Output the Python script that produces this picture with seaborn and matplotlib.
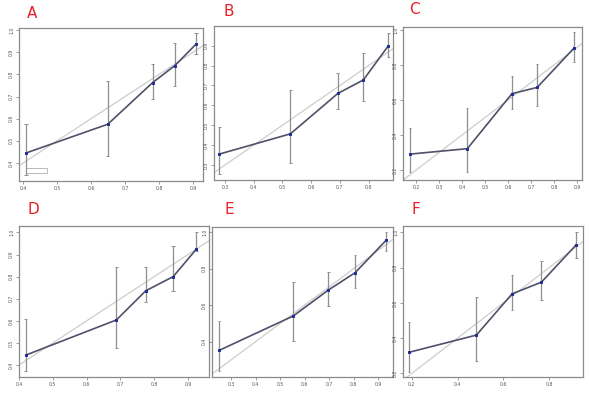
import matplotlib
matplotlib.use("Agg")
import matplotlib.pyplot as plt
from matplotlib.patches import Rectangle
import seaborn as sns
import pandas as pd
import numpy as np

sns.set_style("white")

panels = ["A", "B", "C", "D", "E", "F"]

# predicted (x), observed (y), error bar low/high
pred_A = [0.408, 0.649, 0.781, 0.846, 0.909]
obs_A = [0.445, 0.575, 0.763, 0.839, 0.937]
lo_A = [0.348, 0.434, 0.689, 0.749, 0.892]
hi_A = [0.577, 0.770, 0.845, 0.940, 0.985]

pred_B = [0.280, 0.528, 0.693, 0.782, 0.869]
obs_B = [0.355, 0.457, 0.660, 0.728, 0.900]
lo_B = [0.255, 0.308, 0.580, 0.620, 0.842]
hi_B = [0.492, 0.678, 0.765, 0.863, 0.963]

pred_C = [0.174, 0.423, 0.617, 0.727, 0.886]
obs_C = [0.291, 0.322, 0.636, 0.672, 0.895]
lo_C = [0.189, 0.189, 0.546, 0.564, 0.817]
hi_C = [0.441, 0.552, 0.739, 0.808, 0.987]

pred_D = [0.420, 0.688, 0.775, 0.856, 0.925]
obs_D = [0.445, 0.604, 0.736, 0.800, 0.925]
lo_D = [0.373, 0.475, 0.687, 0.733, 0.915]
hi_D = [0.609, 0.845, 0.845, 0.937, 1.000]

pred_E = [0.251, 0.554, 0.697, 0.806, 0.933]
obs_E = [0.352, 0.541, 0.683, 0.778, 0.956]
lo_E = [0.241, 0.404, 0.596, 0.692, 0.897]
hi_E = [0.514, 0.727, 0.782, 0.877, 1.000]

pred_F = [0.187, 0.482, 0.638, 0.766, 0.919]
obs_F = [0.319, 0.417, 0.651, 0.717, 0.930]
lo_F = [0.209, 0.272, 0.562, 0.615, 0.855]
hi_F = [0.489, 0.634, 0.758, 0.836, 1.000]

xticks_A = [0.4, 0.5, 0.6, 0.7, 0.8, 0.9]
yticks_A = [0.4, 0.5, 0.6, 0.7, 0.8, 0.9, 1.0]
xticks_B = [0.3, 0.4, 0.5, 0.6, 0.7, 0.8]
yticks_B = [0.3, 0.4, 0.5, 0.6, 0.7, 0.8, 0.9]
xticks_C = [0.2, 0.3, 0.4, 0.5, 0.6, 0.7, 0.8, 0.9]
yticks_C = [0.2, 0.4, 0.6, 0.8, 1.0]
xticks_D = [0.4, 0.5, 0.6, 0.7, 0.8, 0.9]
yticks_D = [0.4, 0.5, 0.6, 0.7, 0.8, 0.9, 1.0]
xticks_E = [0.3, 0.4, 0.5, 0.6, 0.7, 0.8, 0.9]
yticks_E = [0.4, 0.6, 0.8, 1.0]
xticks_F = [0.2, 0.4, 0.6, 0.8]
yticks_F = [0.2, 0.4, 0.6, 0.8, 1.0]

data = {
    "A": (pred_A, obs_A, lo_A, hi_A, xticks_A, yticks_A, (0.388, 0.929), (0.319, 1.009)),
    "B": (pred_B, obs_B, lo_B, hi_B, xticks_B, yticks_B, (0.262, 0.885), (0.225, 0.999)),
    "C": (pred_C, obs_C, lo_C, hi_C, xticks_C, yticks_C, (0.143, 0.922), (0.143, 1.017)),
    "D": (pred_D, obs_D, lo_D, hi_D, xticks_D, yticks_D, (0.400, 0.962), (0.346, 1.029)),
    "E": (pred_E, obs_E, lo_E, hi_E, xticks_E, yticks_E, (0.222, 0.961), (0.206, 1.029)),
    "F": (pred_F, obs_F, lo_F, hi_F, xticks_F, yticks_F, (0.161, 0.948), (0.179, 1.036)),
}

# axes boxes in pixels: left, top, right, bottom
boxes = {
    "A": (19, 28, 203, 181),
    "B": (214, 26, 393, 180),
    "C": (403, 27, 582, 180),
    "D": (19, 226, 209, 377),
    "E": (212, 227, 393, 377),
    "F": (403, 226, 583, 377),
}
label_pos = {"A": (32, 13), "B": (229, 12), "C": (414, 10),
             "D": (33, 210), "E": (229, 210), "F": (416, 209)}

W, H = 589, 399
fig = plt.figure(figsize=(W / 100, H / 100), dpi=100)
fig.patch.set_facecolor("white")

for p in panels:
    l, t, r, b = boxes[p]
    ax = fig.add_axes([l / W, 1 - b / H, (r - l) / W, (b - t) / H])
    pred, obs, lo, hi, xt, yt, xl, yl = data[p]
    # ideal line
    ax.plot([0, 1.1], [0, 1.1], color="#cdcdcd", lw=0.9, zorder=1)
    # error bars
    cap = 0.005
    ax.vlines(pred, lo, hi, color="#8f8f8f", lw=0.9, zorder=2)
    ax.hlines(lo, np.array(pred) - cap, np.array(pred) + cap, color="#8f8f8f", lw=0.7)
    ax.hlines(hi, np.array(pred) - cap, np.array(pred) + cap, color="#8f8f8f", lw=0.7)
    df = pd.DataFrame({"pred": pred, "obs": obs})
    sns.lineplot(data=df, x="pred", y="obs", ax=ax, color="#505068", lw=1.2,
                 marker="s", markersize=1.4, markerfacecolor="#1f2a9c",
                 markeredgecolor="#1f2a9c", sort=False, zorder=3)
    ax.set_xlim(*xl)
    ax.set_ylim(*yl)
    ax.set_xticks(xt)
    ax.set_yticks(yt)
    ax.set_xticklabels([f"{v:.1f}" for v in xt])
    ax.set_yticklabels([f"{v:.1f}" for v in yt], va="center")
    ax.tick_params(axis="y", labelrotation=90)
    ax.tick_params(axis="both", direction="out", length=2, width=0.5,
                   labelsize=3.3, labelcolor="#555555", color="#777777", pad=1.5,
                   left=True, bottom=True)
    ax.set_xlabel("")
    ax.set_ylabel("")
    for s in ax.spines.values():
        s.set_color("#8a8a8a")
        s.set_linewidth(0.9)
    if p == "A":
        ax.add_patch(Rectangle((0.04, 0.05), 0.11, 0.035, transform=ax.transAxes,
                               fill=False, edgecolor="#a0a0a0", lw=0.5))
    fig.text(label_pos[p][0] / W, 1 - label_pos[p][1] / H, p, color="#e8202a",
             fontsize=11, ha="center", va="center", family="DejaVu Sans")

fig.savefig("out.png", dpi=100, facecolor="white")
